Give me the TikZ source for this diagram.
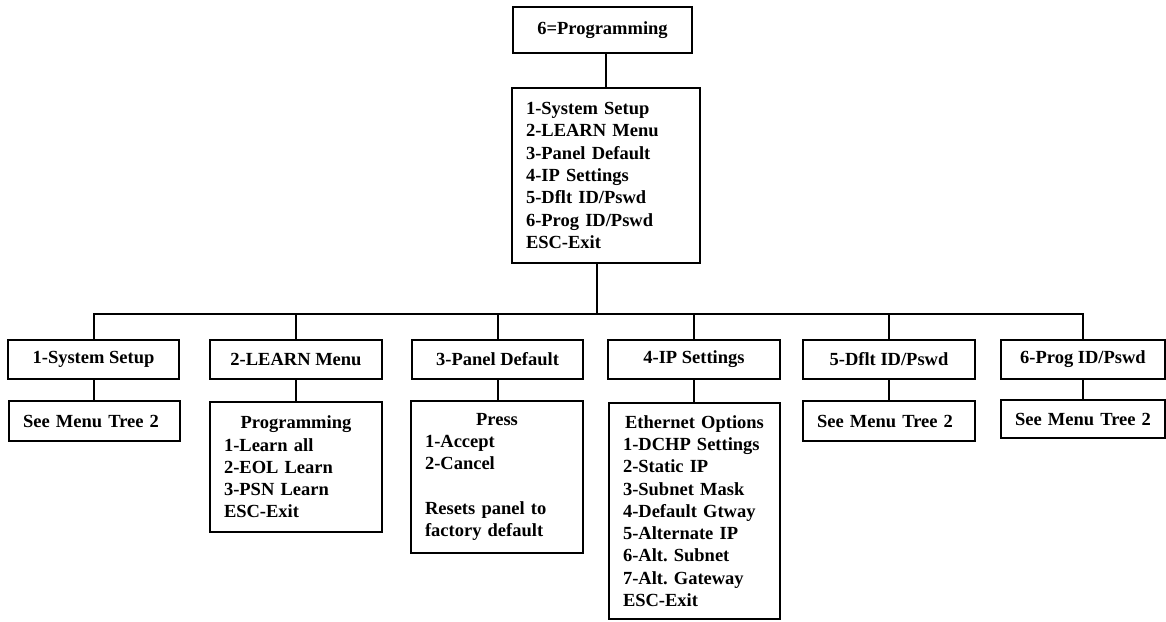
\documentclass[tikz,border=0pt]{standalone}
\usepackage{fontspec}
\setmainfont{Liberation Serif}
\frenchspacing
\begin{document}
\begin{tikzpicture}[x=1pt,y=-1pt]
\tikzset{
  box/.style={draw, line width=2.4pt, inner xsep=14pt, inner ysep=0pt,
    font=\bfseries\fontsize{18.5}{22.3}\selectfont\frenchspacing},
  rowbox/.style={box, align=center, minimum height=39pt},
  listbox/.style={box, align=left},
  link/.style={line width=2pt}
}
\useasboundingbox (0,0) rectangle (1166,621);
% top
\node[box, minimum width=179pt, minimum height=46pt] (top) at (602.5,30) {6=Programming};
\node[listbox, text width=160pt, minimum height=175pt] (main) at (606,175.5)
  {1-System Setup\\2-LEARN Menu\\3-Panel Default\\4-IP Settings\\5-Dflt ID/Pswd\\6-Prog ID/Pswd\\ESC-Exit};
% row 1
\node[rowbox, minimum width=171pt] (b1) at (93.5,359.5) {1-System Setup};
\node[rowbox, minimum width=172pt] (b2) at (296,359.5) {2-LEARN Menu};
\node[rowbox, minimum width=171pt] (b3) at (497.5,359.5) {3-Panel Default};
\node[rowbox, minimum width=172pt] (b4) at (694,359.5) {4-IP Settings};
\node[rowbox, minimum width=172pt] (b5) at (889,359.5) {5-Dflt ID/Pswd};
\node[rowbox, minimum width=164pt] (b6) at (1083,359.5) {6-Prog ID/Pswd};
% row 2
\node[listbox, text width=143pt, minimum height=40pt] (c1) at (94.5,421) {See Menu Tree 2};
\node[listbox, text width=144pt, minimum height=130pt] (c2) at (296,467)
  {\makebox[\linewidth][c]{Programming}\\1-Learn all\\2-EOL Learn\\3-PSN Learn\\ESC-Exit};
\node[listbox, text width=144pt, minimum height=152pt] (c3) at (497,477)
  {\makebox[\linewidth][c]{Press}\\1-Accept\\2-Cancel\\\mbox{}\\Resets panel to\\factory default};
\node[listbox, text width=143pt, minimum height=216pt] (c4) at (694.5,511)
  {\makebox[\linewidth][c]{Ethernet Options}\\1-DCHP Settings\\2-Static IP\\3-Subnet Mask\\4-Default Gtway\\5-Alternate IP\\6-Alt. Subnet\\7-Alt. Gateway\\ESC-Exit};
\node[listbox, text width=144pt, minimum height=40pt] (c5) at (889,421) {See Menu Tree 2};
\node[listbox, text width=136pt, minimum height=38pt] (c6) at (1083,419) {See Menu Tree 2};
% connectors
\draw[link] (main.north) -- (main.north |- top.south);
\coordinate (bj) at (597,314);
\draw[link] (bj |- main.south) -- (bj);
\draw[link] (b1.north) -- (b1.north |- bj) -- (b6.north |- bj) -- (b6.north);
\foreach \n in {b2,b3,b4,b5} \draw[link] (\n.north) -- (\n.north |- bj);
\foreach \a/\b in {b1/c1,b2/c2,b3/c3,b4/c4,b5/c5,b6/c6} \draw[link] (\a.south) -- (\a.south |- \b.north);
\end{tikzpicture}
\end{document}
